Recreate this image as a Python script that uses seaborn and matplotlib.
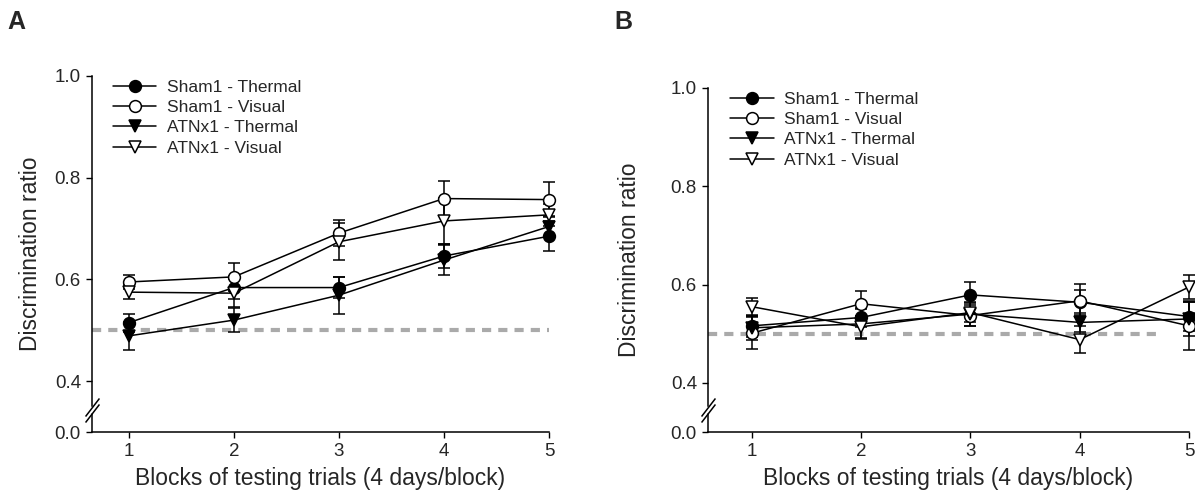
import numpy as np
import pandas as pd
import matplotlib
matplotlib.use('Agg')
import matplotlib.pyplot as plt
import seaborn as sns

# Datos (media y error por bloque)
blocks = [1, 2, 3, 4, 5]
group_labels = ['Sham1 - Thermal', 'Sham1 - Visual', 'ATNx1 - Thermal', 'ATNx1 - Visual']

a_sham_thermal = [0.515, 0.584, 0.584, 0.646, 0.685]
a_sham_thermal_err = [0.018, 0.022, 0.021, 0.024, 0.030]
a_sham_visual = [0.595, 0.605, 0.691, 0.759, 0.757]
a_sham_visual_err = [0.014, 0.027, 0.026, 0.035, 0.035]
a_atn_thermal = [0.489, 0.520, 0.569, 0.638, 0.704]
a_atn_thermal_err = [0.028, 0.023, 0.036, 0.030, 0.020]
a_atn_visual = [0.575, 0.573, 0.674, 0.715, 0.727]
a_atn_visual_err = [0.014, 0.028, 0.036, 0.045, 0.022]

b_sham_thermal = [0.516, 0.533, 0.579, 0.564, 0.535]
b_sham_thermal_err = [0.022, 0.020, 0.026, 0.025, 0.030]
b_sham_visual = [0.501, 0.561, 0.537, 0.567, 0.516]
b_sham_visual_err = [0.032, 0.025, 0.022, 0.034, 0.050]
b_atn_thermal = [0.512, 0.520, 0.540, 0.523, 0.530]
b_atn_thermal_err = [0.025, 0.030, 0.025, 0.020, 0.035]
b_atn_visual = [0.555, 0.514, 0.543, 0.488, 0.595]
b_atn_visual_err = [0.018, 0.022, 0.020, 0.028, 0.025]

chance_level = 0.5

sns.set_style('ticks')
plt.rcParams['font.family'] = ['Liberation Sans', 'DejaVu Sans']

# estilo de cada grupo: marcador y relleno
styles = [('o', 'black'), ('o', 'white'), ('v', 'black'), ('v', 'white')]


def draw_panel(ax, letter, means, errs, xlim, chance_end, ylabelpad, letter_x, fig):
    for lab, m, e, (mk, fc) in zip(group_labels, means, errs, styles):
        df = pd.DataFrame({'block': blocks, 'ratio': m})
        ax.errorbar(blocks, m, yerr=e, fmt='none', ecolor='black', elinewidth=1.1,
                    capsize=4.5, capthick=1.1, clip_on=False, zorder=2)
        sns.lineplot(data=df, x='block', y='ratio', ax=ax, color='black', lw=1.1,
                     marker=mk, markersize=9 if mk == 'v' else 8.5,
                     markerfacecolor=fc, markeredgecolor='black', markeredgewidth=1.1,
                     label=lab, clip_on=False, zorder=3)
    ax.plot([xlim[0], chance_end], [chance_level, chance_level], color='#aaaaaa',
            lw=3, dashes=(2.2, 1.7), zorder=1)

    ax.set_xlim(xlim)
    ax.set_ylim(0.3, 1.0)
    ax.set_xticks(blocks)
    ax.set_yticks([0.3, 0.4, 0.6, 0.8, 1.0])
    ax.set_yticklabels(['0.0', '0.4', '0.6', '0.8', '1.0'])
    ax.tick_params(direction='out', length=4.5, width=1, labelsize=13.5, pad=3.5, color='black')
    ax.set_xlabel('Blocks of testing trials (4 days/block)', fontsize=16.5, labelpad=5)
    ax.set_ylabel('Discrimination ratio', fontsize=16.5, labelpad=ylabelpad)

    sns.despine(ax=ax)
    for s in ['left', 'bottom']:
        ax.spines[s].set_linewidth(1.1)
        ax.spines[s].set_color('black')
    # corte del eje y
    ax.spines['left'].set_bounds(0.352, 1.0)
    ax.plot([0, 0], [0.3, 0.336], transform=ax.get_yaxis_transform(), color='black',
            lw=1.1, clip_on=False)
    brk = dict(marker=[(-1, -1.3), (1, 1.3)], markersize=13, linestyle='none',
               color='black', mec='black', mew=1.1, clip_on=False)
    ax.plot([0], [0.338], transform=ax.get_yaxis_transform(), **brk)
    ax.plot([0], [0.350], transform=ax.get_yaxis_transform(), **brk)

    ax.legend(loc='upper left', frameon=False, fontsize=12.5, handlelength=2.5,
              handletextpad=0.6, labelspacing=0.3, borderpad=0, borderaxespad=0,
              bbox_to_anchor=(0.046, 0.99))
    fig.text(letter_x, 1 - 10 / 494, letter, fontsize=18, fontweight='bold', va='top')


fig = plt.figure(figsize=(11.95, 4.94), dpi=100)
axA = fig.add_axes([92 / 1195, 62 / 494, 457 / 1195, 356 / 494])
axB = fig.add_axes([708 / 1195, 62 / 494, 481 / 1195, 344 / 494])

draw_panel(axA, 'A', [a_sham_thermal, a_sham_visual, a_atn_thermal, a_atn_visual],
           [a_sham_thermal_err, a_sham_visual_err, a_atn_thermal_err, a_atn_visual_err],
           (0.65, 5.0), 5.0, 9, 7 / 1195, fig)
draw_panel(axB, 'B', [b_sham_thermal, b_sham_visual, b_atn_thermal, b_atn_visual],
           [b_sham_thermal_err, b_sham_visual_err, b_atn_thermal_err, b_atn_visual_err],
           (0.6, 5.0), 4.76, 21, 614 / 1195, fig)

fig.savefig('out.png', dpi=100)
